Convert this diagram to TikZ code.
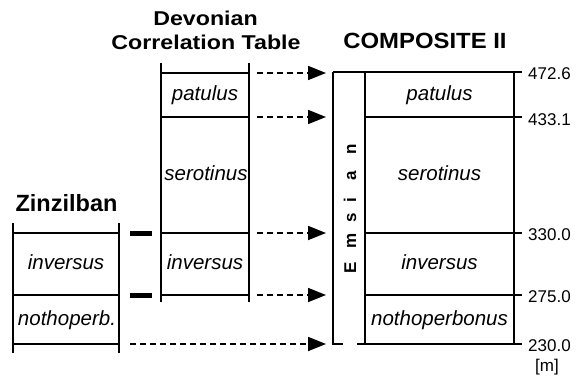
\documentclass[tikz,border=0pt]{standalone}
\usepackage{fontspec}
\setmainfont{Liberation Sans}
\usetikzlibrary{arrows.meta}
\begin{document}
\begin{tikzpicture}[x=1pt,y=-1pt,
  col/.style={line width=2.8pt},
  rowline/.style={line width=2pt},
  framel/.style={line width=2.8pt},
  bar/.style={line width=5pt},
  arr/.style={line width=1.8pt, dash pattern=on 6pt off 4pt, -{Triangle[length=18pt,width=14pt]}},
  taxon/.style={font=\fontsize{20.5}{24}\selectfont\itshape, anchor=base, inner sep=0pt},
  ttl/.style={font=\fontsize{23.5}{28}\selectfont\bfseries, anchor=base, inner sep=0pt},
  dttl/.style={font=\fontsize{20}{24}\selectfont\bfseries, anchor=base, inner sep=0pt, xscale=1.16},
  num/.style={font=\fontsize{17}{20}\selectfont, anchor=base west, inner sep=0pt},
  emsl/.style={font=\fontsize{17}{20}\selectfont\bfseries, anchor=base, inner sep=0pt, rotate=90}
]
\useasboundingbox (0,0) rectangle (588,377);

% ---------- titles ----------
\node[ttl] (tz) at (66.5,211) {Zinzilban};
\node[dttl] (td1) at (205.5,25.5) {Devonian};
\node[dttl] (td2) at (206,50) {Correlation Table};
\node[ttl, font=\fontsize{22}{26}\selectfont\bfseries, xscale=1.085] (tc) at (425,49) {COMPOSITE II};

% ---------- Zinzilban column ----------
\draw[col] (13,223) -- (13,353);
\draw[col] (119,223) -- (119,353);
\draw[rowline] (13,233) -- (119,233);
\draw[rowline] (13,295) -- (119,295);
\draw[rowline] (13,344) -- (119,344);
\node[taxon] (zinv) at (66,269.5) {inversus};
\node[taxon] (znoth) at (67,325) {nothoperb.};

% thick correlation bars
\draw[bar] (130,233) -- (152,233);
\draw[bar] (130,295) -- (152,295);

% ---------- Devonian Correlation Table ----------
\draw[col] (161,63) -- (161,302);
\draw[col] (249,63) -- (249,302);
\draw[rowline] (161,73) -- (249,73);
\draw[rowline] (161,117) -- (249,117);
\draw[rowline] (161,233) -- (249,233);
\draw[rowline] (161,295) -- (249,295);
\node[taxon] (dpat) at (205,100.5) {patulus};
\node[taxon] (dser) at (206,180) {serotinus};
\node[taxon] (dinv) at (205,269.5) {inversus};

% ---------- COMPOSITE II ----------
\draw[framel] (333,72) -- (333,344) -- (343,344);
\draw[framel] (333,72) -- (522,72);
\draw[col] (365,72) -- (365,344);
\draw[col] (514,72) -- (514,344);
\draw[rowline] (365,117) -- (522,117);
\draw[rowline] (365,233) -- (522,233);
\draw[rowline] (365,295) -- (522,295);
\draw[framel] (357,344) -- (522,344);

\node[taxon] (cpat) at (439.5,100) {patulus};
\node[taxon] (cser) at (439.5,180) {serotinus};
\node[taxon] (cinv) at (439.5,269.5) {inversus};
\node[taxon] (cnoth) at (439.5,325) {nothoperbonus};

% Emsian vertical label
\node[emsl] (eE) at (356,268) {E};
\node[emsl] (em) at (356,241) {m};
\node[emsl] (es) at (356,218) {s};
\node[emsl] (ei) at (356,200) {i};
\node[emsl] (ea) at (356,176) {a};
\node[emsl] (en) at (356,149) {n};

% depth labels
\node[num] (n1) at (528,80) {472.6};
\node[num] (n2) at (528,125) {433.1};
\node[num] (n3) at (528,240.5) {330.0};
\node[num] (n4) at (528,302.5) {275.0};
\node[num] (n5) at (528,351) {230.0};
\node[num] (nm) at (535,371) {[m]};

% ---------- correlation arrows ----------
\coordinate (a1s) at (257,73);  \coordinate (a1e) at (326,73);
\coordinate (a2s) at (257,117); \coordinate (a2e) at (326,117);
\coordinate (a3s) at (257,233); \coordinate (a3e) at (326,233);
\coordinate (a4s) at (257,295); \coordinate (a4e) at (326,295);
\coordinate (a5s) at (130,344); \coordinate (a5e) at (326,344);
\draw[arr] (a1s) -- (a1e);
\draw[arr] (a2s) -- (a2e);
\draw[arr] (a3s) -- (a3e);
\draw[arr] (a4s) -- (a4e);
\draw[arr] (a5s) -- (a5e);
\end{tikzpicture}
\end{document}
